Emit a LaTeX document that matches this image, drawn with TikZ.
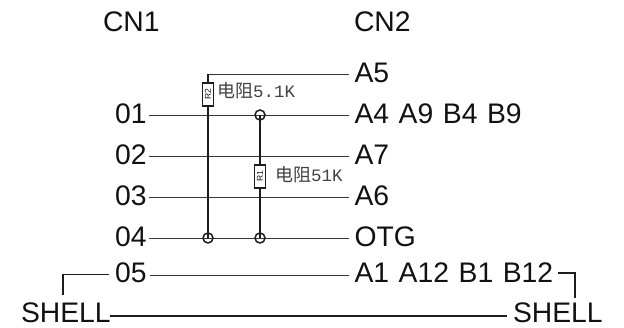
\documentclass[tikz,border=0pt]{standalone}
\usepackage{fontspec}
\setmainfont{Liberation Sans}
\newfontfamily\cjkf{Noto Sans CJK SC}
\newfontfamily\monof{Liberation Mono}
\definecolor{ink}{HTML}{111111}
\tikzset{
  lbl/.style={inner sep=0pt,outer sep=0pt,text=ink,font=\fontsize{28.3}{30}\selectfont},
  sig/.style={draw=ink!85,line width=0.9pt},
  shellwire/.style={draw=ink!95,line width=1.5pt},
  thick wire/.style={draw=ink!95,line width=1.9pt},
  res/.style={draw=ink!95,fill=white,line width=1.7pt,minimum width=11pt,minimum height=23.5pt,inner sep=0pt,outer sep=0pt},
  resname/.style={inner sep=0pt,text=ink,rotate=90,font=\fontsize{8.5}{9}\selectfont},
  val/.style={inner sep=0pt,anchor=west,text=ink!80},
  jun/.style={circle,draw=ink!95,line width=1.5pt,minimum size=10pt,inner sep=0pt,outer sep=0pt},
}
\newcommand{\valtext}[2]{{\fontsize{18}{20}\selectfont\cjkf #1}{\fontsize{17.4}{20}\selectfont\monof #2}}
\newcommand{\wsp}{\hspace{9.6pt}}
\begin{document}
\begin{tikzpicture}[x=1pt,y=-1pt]
\useasboundingbox (0,0) rectangle (624,328);
% headers
\node[lbl,anchor=base west] (cn1) at (103,32) {CN1};
\node[lbl,anchor=base west] (cn2) at (354,32) {CN2};
% left labels
\node[lbl,anchor=base east] (n01) at (146.5,124) {01};
\node[lbl,anchor=base east] (n02) at (146.5,165) {02};
\node[lbl,anchor=base east] (n03) at (146.5,206) {03};
\node[lbl,anchor=base east] (n04) at (146.5,247) {04};
\node[lbl,anchor=base east] (n05) at (146.5,283) {05};
\node[lbl,anchor=base west] (shl) at (21,323) {SHELL};
% right labels
\node[lbl,anchor=base west] (a5) at (354.5,83) {A5};
\node[lbl,anchor=base west] (a4) at (354.5,124) {A4\wsp A9\wsp B4\wsp B9};
\node[lbl,anchor=base west] (a7) at (354.5,165) {A7};
\node[lbl,anchor=base west] (a6) at (354.5,206) {A6};
\node[lbl,anchor=base west] (otg) at (354.5,247) {OTG};
\node[lbl,anchor=base west] (a1) at (354.5,283) {A1\wsp A12\wsp B1\wsp B12};
\node[lbl,anchor=base west] (shr) at (513,323) {SHELL};
% horizontal signals
\coordinate (c01) at (149,115);
\coordinate (c02) at (149,156);
\coordinate (c03) at (149,197);
\coordinate (c04) at (149,238);
\coordinate (c05) at (150,275);
\coordinate (e01) at (349,115);
\coordinate (e02) at (349,156);
\coordinate (e03) at (349,197);
\coordinate (e04) at (349,238);
\coordinate (e05) at (349,275);
\draw[sig] (c01) -- (e01);
\draw[sig] (c02) -- (e02);
\draw[sig] (c03) -- (e03);
\draw[sig] (c04) -- (e04);
\draw[sig] (c05) -- (e05);
% junctions
\node[jun] (j1) at (260,115) {};
\node[jun] (j2) at (208,238) {};
\node[jun] (j3) at (260,238) {};
% resistors
\coordinate (a5e) at (349,74);
\coordinate (top) at (208,74);
\node[res] (r2) at (208,94.5) {};
\node[res] (r1) at (260,176.5) {};
\draw[thick wire] (r2.south) -- (j2.center);
\draw[thick wire] (j1.center) -- (r1.north);
\draw[thick wire] (r1.south) -- (j3.center);
\draw[sig] (a5e) -- (top);
\draw[thick wire] (top) -- (r2.north);
\node[resname] (r2t) at (r2.center) {R2};
\node[resname] (r1t) at (r1.center) {R1};
\node[val] (v2) at (217,91) {\valtext{电阻}{5.1K}};
\node[val] (v1) at (275,175) {\valtext{电阻}{51K}};
% shell
\coordinate (ls) at (63,295);
\coordinate (lc) at (63,274.5);
\coordinate (le) at (109,274.5);
\coordinate (rs) at (558,273);
\coordinate (rc) at (575,273);
\coordinate (re) at (575,298);
\coordinate (sl) at (110,316);
\coordinate (sr) at (507,316);
\draw[shellwire] (ls) -- (lc) -- (le);
\draw[shellwire] (rs) -- (rc) -- (re);
\draw[shellwire,line width=1.7pt] (sl) -- (sr);
\end{tikzpicture}
\end{document}
